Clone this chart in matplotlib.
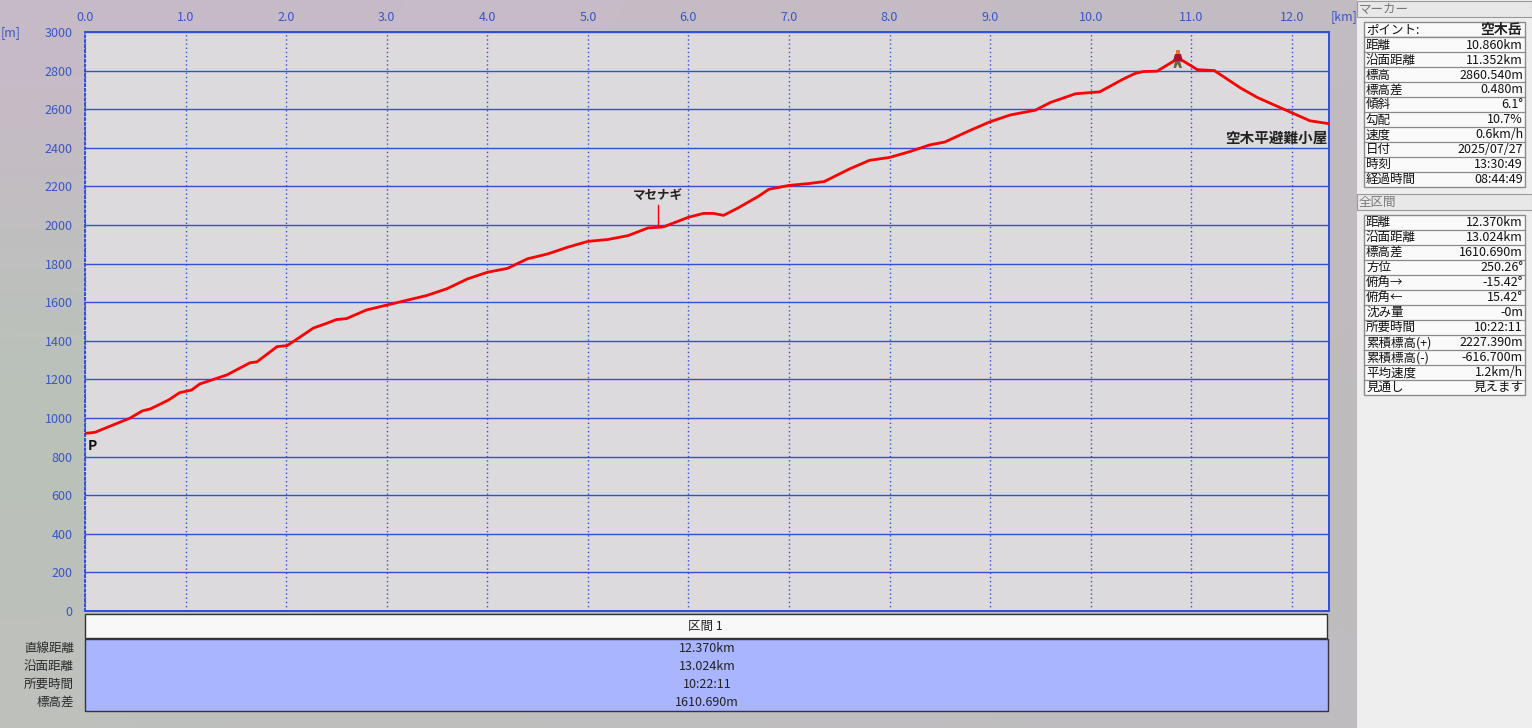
import matplotlib
matplotlib.use("Agg")
import matplotlib.pyplot as plt
from matplotlib.patches import Polygon, Rectangle

plt.rcParams["font.family"] = ["Noto Sans CJK JP", "DejaVu Sans"]

W, H = 1532, 728
BLUE = "#3050d8"
TICK = "#3a55c8"
DARK = "#222222"

dist_km = [0, 0.1, 0.18, 0.45, 0.57, 0.65, 0.83, 0.94, 1.06, 1.14, 1.41, 1.64, 1.71, 1.91, 2.01, 2.14,
           2.27, 2.4, 2.5, 2.6, 2.8, 3.0, 3.2, 3.4, 3.6, 3.8, 4.0, 4.2, 4.4, 4.6, 4.8, 5.0, 5.2, 5.4,
           5.6, 5.75, 5.85, 6.0, 6.15, 6.25, 6.35, 6.5, 6.7, 6.8, 7.0, 7.2, 7.35, 7.6, 7.8, 8.0, 8.2,
           8.4, 8.55, 8.8, 9.0, 9.2, 9.45, 9.6, 9.85, 10.09, 10.32, 10.44, 10.52, 10.66, 10.86, 10.92,
           11.06, 11.23, 11.49, 11.66, 11.92, 12.18, 12.37]
elev_m = [920, 926, 943, 1000, 1037, 1047, 1093, 1131, 1145, 1176, 1223, 1286, 1291, 1370, 1375, 1420,
          1466, 1490, 1510, 1515, 1560, 1585, 1610, 1635, 1670, 1720, 1755, 1775, 1825, 1850, 1885,
          1915, 1925, 1945, 1985, 1990, 2010, 2040, 2060, 2060, 2050, 2090, 2150, 2185, 2205, 2215,
          2225, 2290, 2335, 2350, 2380, 2415, 2430, 2490, 2535, 2570, 2595, 2635, 2680, 2690, 2755,
          2785, 2795, 2797, 2860, 2850, 2805, 2800, 2710, 2660, 2600, 2540, 2525]

km_ticks = list(range(13))
m_ticks = list(range(0, 3001, 200))

marker_rows = [("距離", "10.860km"), ("沿面距離", "11.352km"), ("標高", "2860.540m"), ("標高差", "0.480m"),
               ("傾斜", "6.1°"), ("勾配", "10.7%"), ("速度", "0.6km/h"), ("日付", "2025/07/27"),
               ("時刻", "13:30:49"), ("経過時間", "08:44:49")]
total_rows = [("距離", "12.370km"), ("沿面距離", "13.024km"), ("標高差", "1610.690m"), ("方位", "250.26°"),
              ("俯角→", "-15.42°"), ("俯角←", "15.42°"), ("沈み量", "-0m"), ("所要時間", "10:22:11"),
              ("累積標高(+)", "2227.390m"), ("累積標高(-)", "-616.700m"), ("平均速度", "1.2km/h"),
              ("見通し", "見えます")]
section_labels = ["直線距離", "沿面距離", "所要時間", "標高差"]
section_values = ["12.370km", "13.024km", "10:22:11", "1610.690m"]

# muted window background, pinker at the top and greener down the left side
bg_colors = [[(200, 186, 200), (198, 188, 198), (194, 188, 194)],
             [(182, 196, 182), (192, 190, 192), (190, 186, 188)],
             [(190, 192, 188), (192, 190, 192), (190, 188, 190)]]

fig = plt.figure(figsize=(W / 100, H / 100), dpi=100)

# full-figure axes in pixel coordinates for the window furniture
pg = fig.add_axes([0, 0, 1, 1])
pg.imshow(bg_colors, extent=[0, W, H, 0], aspect="auto", interpolation="bicubic", zorder=0)
pg.set_xlim(0, W)
pg.set_ylim(H, 0)
pg.axis("off")


def box(x0, y0, x1, y1, face, edge="none", lw=1.0, z=1):
    pg.add_patch(Rectangle((x0, y0), x1 - x0, y1 - y0, facecolor=face, edgecolor=edge, linewidth=lw, zorder=z))


def table(rows, top, row_h, x0=1364, x1=1525):
    box(x0, top, x1, top + row_h * len(rows), "#fafafa", "#8a8a8a", 1.0)
    for i, (name, val) in enumerate(rows):
        y = top + row_h * (i + 0.5) + 0.6
        if i:
            pg.plot([x0, x1], [top + row_h * i] * 2, color="#8a8a8a", lw=0.9, zorder=2)
        pg.text(x0 + 2, y, name, fontsize=9, color="#111111", ha="left", va="center", zorder=3)
        pg.text(x1 - 2, y, val, fontsize=9, color="#111111", ha="right", va="center", zorder=3)


# right panel
box(1357, 0, W, H, "#eeeeee")
box(1357, 1, 1532, 17, "#e8e8e8", "#9a9a9a", 0.8)
pg.text(1359, 9, "マーカー", fontsize=9, color="#777777", va="center", zorder=3)
box(1357, 194, 1532, 210, "#e8e8e8", "#9a9a9a", 0.8)
pg.text(1359, 202, "全区間", fontsize=9, color="#777777", va="center", zorder=3)
box(1364, 22, 1525, 37, "#fafafa", "#8a8a8a", 1.0)
pg.text(1366, 30, "ポイント:", fontsize=9, color="#111111", va="center", zorder=3)
pg.text(1522, 30, "空木岳", fontsize=10, color="#222222", fontweight="bold", ha="right", va="center", zorder=3)
table(marker_rows, 37, 14.97)
table(total_rows, 214.5, 15.0)

# section strip under the plot
box(85, 614, 1327, 638, "#f8f8f8", "#333333", 1.0)
pg.text(705, 626, "区間 1", fontsize=9, color="#222222", ha="center", va="center", zorder=3)
box(85, 639, 1328, 711, "#a9b5ff", "#333344", 1.0)
for i, (lab, val) in enumerate(zip(section_labels, section_values)):
    y = 648 + 18.2 * i
    pg.text(74, y, lab, fontsize=9, color="#2a2a2a", ha="right", va="center", zorder=3)
    pg.text(707, y, val, fontsize=9, color="#222222", ha="center", va="center", zorder=3)

pg.text(1, 33, "[m]", fontsize=9, color=TICK, va="center", zorder=3)
pg.text(1331, 17, "[km]", fontsize=9, color=TICK, va="center", zorder=3)

# profile axes
ax = fig.add_axes([85 / W, 1 - 611 / H, (1329 - 85) / W, (611 - 32) / H])
ax.set_facecolor("#dcdadc")
ax.set_xlim(0, 12.37)
ax.set_ylim(0, 3000)
ax.xaxis.tick_top()
ax.set_xticks(km_ticks)
ax.set_xticklabels([f"{k:.1f}" for k in km_ticks], fontsize=9, color=TICK)
ax.set_yticks(m_ticks)
ax.set_yticklabels([str(m) for m in m_ticks], fontsize=9, color=TICK)
ax.tick_params(length=0, pad=9)
ax.tick_params(axis="x", pad=6)
ax.grid(axis="y", color=BLUE, lw=1.0)
ax.grid(axis="x", color=BLUE, lw=1.0, linestyle=(0, (1, 2)))
ax.set_axisbelow(True)
for side, sp in ax.spines.items():
    sp.set_color(BLUE)
    sp.set_linewidth(1.4)
ax.spines["left"].set_linestyle((0, (1, 1.5)))

ax.plot(dist_km, elev_m, color="#ff0000", lw=2.0, solid_joinstyle="round", zorder=4)
ax.plot([5.7, 5.7], [1990, 2104], color="#ff0000", lw=1.0, zorder=3)
ax.text(5.7, 2155, "マセナギ", fontsize=9, fontweight="bold", color=DARK, ha="center", va="center", zorder=5)
ax.text(12.36, 2450, "空木平避難小屋", fontsize=10.5, fontweight="bold", color=DARK, ha="right", va="center", zorder=5)
ax.text(0.07, 855, "P", fontsize=10, fontweight="bold", color="#111111", ha="center", va="center", zorder=5)

# little hiker icon at the summit
ov = fig.add_axes([0, 0, 1, 1], facecolor="none")
ov.set_xlim(0, W)
ov.set_ylim(H, 0)
ov.axis("off")
ov.add_patch(Rectangle((1176, 50), 4, 4, color="#e07828", lw=0))
ov.add_patch(Polygon([(1175, 54), (1181, 54), (1183, 61), (1173, 61)], color="#b01030", lw=0))
ov.add_patch(Polygon([(1175, 61), (1180, 61), (1182, 68), (1179.5, 68), (1177.5, 64), (1176, 68), (1173.5, 68)],
                     color="#6a6448", lw=0))

fig.savefig("out.png", dpi=100)
